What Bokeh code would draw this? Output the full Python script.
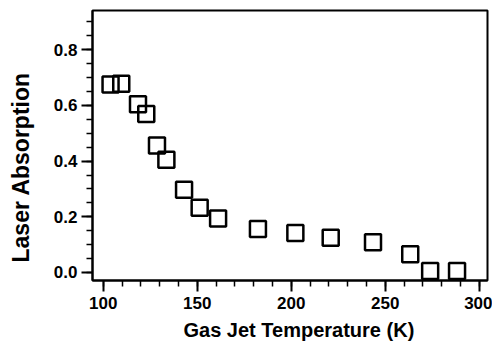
import math
from bokeh.plotting import figure
from bokeh.models import FixedTicker, PrintfTickFormatter, Range1d, Title
from bokeh.embed import file_html
from bokeh.resources import INLINE

# Data
temperature_k = [103.9, 109.6, 118.5, 122.9, 128.6, 133.6, 143.0, 151.3, 161.1,
                 182.3, 202.2, 221.0, 243.5, 263.3, 273.9, 288.2]
laser_absorption = [0.675, 0.678, 0.604, 0.569, 0.456, 0.405, 0.297, 0.232, 0.194,
                    0.156, 0.142, 0.125, 0.108, 0.065, 0.005, 0.005]

x_major_ticks = [100, 150, 200, 250, 300]
x_minor_ticks = list(range(100, 301, 10))
y_major_ticks = [0.0, 0.2, 0.4, 0.6, 0.8]
y_minor_ticks = [round(0.05 * i, 2) for i in range(0, 19)]

x_label = "Gas Jet Temperature (K)"
y_label = "Laser Absorption"

FONT = "Liberation Sans"

p = figure(width=492, height=360, output_backend="svg", toolbar_location=None,
           x_range=Range1d(94.3, 304.4), y_range=Range1d(-0.029, 0.941),
           min_border_left=92, min_border_right=5, min_border_top=10, min_border_bottom=80)

p.background_fill_color = "white"
p.border_fill_color = "white"
p.outline_line_color = "black"
p.outline_line_width = 2
p.outline_line_alpha = 1.0
p.xgrid.visible = False
p.ygrid.visible = False

p.scatter(temperature_k, laser_absorption, marker="square", size=16,
          fill_color=None, line_color="black", line_width=2.5)

for ax in (p.xaxis[0], p.yaxis[0]):
    ax.axis_line_color = "black"
    ax.axis_line_width = 2
    ax.major_tick_line_color = "black"
    ax.major_tick_line_width = 2
    ax.minor_tick_line_color = "black"
    ax.minor_tick_line_width = 1.5
    ax.major_tick_out = 11
    ax.major_tick_in = 0
    ax.minor_tick_out = 6
    ax.minor_tick_in = 0
    ax.major_label_text_font = FONT
    ax.major_label_text_font_style = "bold"
    ax.major_label_text_font_size = "17px"
    ax.major_label_text_color = "black"

p.xaxis[0].axis_label = None
# blank spacer label to push the side title further left
p.yaxis[0].axis_label = " "
p.yaxis[0].axis_label_text_font_size = "1px"
p.yaxis[0].axis_label_standoff = 8

p.xaxis[0].ticker = FixedTicker(ticks=x_major_ticks, minor_ticks=x_minor_ticks)
p.yaxis[0].ticker = FixedTicker(ticks=y_major_ticks, minor_ticks=y_minor_ticks)
p.yaxis[0].formatter = PrintfTickFormatter(format="%.1f")
p.xaxis[0].major_label_standoff = 5
p.yaxis[0].major_label_standoff = 4

# axis titles as side titles so they can be shifted along the axis
p.add_layout(Title(text=x_label, align="left", offset=91, standoff=10,
                   text_font=FONT, text_font_style="bold", text_font_size="20px",
                   text_color="black"), "below")
p.add_layout(Title(text=y_label, align="left", offset=18, standoff=10,
                   text_font=FONT, text_font_style="bold", text_font_size="23px",
                   text_color="black"), "left")

open("out.html", "w").write(file_html(p, INLINE))
